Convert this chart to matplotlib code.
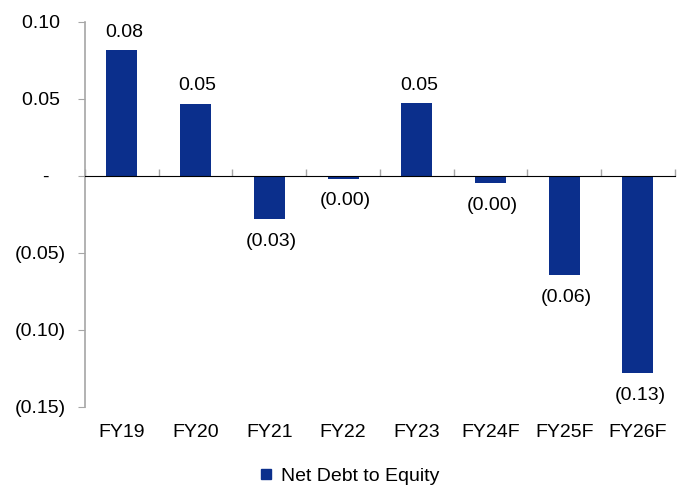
import matplotlib
matplotlib.use('Agg')
import matplotlib.pyplot as plt
from matplotlib.ticker import FuncFormatter
from matplotlib.lines import Line2D

plt.rcParams['font.family'] = ['Liberation Sans', 'DejaVu Sans']

# data
years = ['FY19', 'FY20', 'FY21', 'FY22', 'FY23', 'FY24F', 'FY25F', 'FY26F']
net_debt_to_equity = [0.0816, 0.0466, -0.0277, -0.0017, 0.0472, -0.0045, -0.0645, -0.1277]
y_ticks = [0.10, 0.05, 0.0, -0.05, -0.10, -0.15]

bar_color = '#0B2F8C'
axis_color = '#A6A6A6'
fs = 14


def fmt(v, pos=None):
    # accounting style: negatives in brackets, zero as a dash
    if abs(v) < 1e-9:
        return '-   '
    if v < 0:
        return '({:.2f})'.format(-v)
    return '{:.2f} '.format(v)


def label(v):
    if v < 0:
        return '({:.2f})'.format(-v)
    return '{:.2f}'.format(v)


fig = plt.figure(figsize=(6.83, 4.88), dpi=100)
ax = fig.add_axes([0.1245, 0.166, 0.8635, 0.789])

x = range(len(years))
bars = ax.bar(x, net_debt_to_equity, width=0.42, color=bar_color, zorder=3)

ax.set_xlim(-0.5, len(years) - 0.5)
ax.set_ylim(-0.15, 0.10)
ax.set_yticks(y_ticks)
ax.yaxis.set_major_formatter(FuncFormatter(fmt))
ax.tick_params(axis='y', length=5, color=axis_color, pad=9, labelsize=fs)

ax.set_xticks(list(x))
ax.set_xticklabels(years)
ax.tick_params(axis='x', length=0, pad=12, labelsize=fs)

for s in ['top', 'right', 'bottom']:
    ax.spines[s].set_visible(False)
ax.spines['left'].set_color(axis_color)
ax.spines['left'].set_linewidth(1.2)

# zero line with category boundary ticks
zero_pos = (0 - (-0.15)) / 0.25
sec = ax.secondary_xaxis(zero_pos)
sec.set_xticks([i - 0.5 for i in range(len(years) + 1)])
sec.set_xticklabels([])
sec.tick_params(axis='x', direction='out', length=5, color=axis_color, width=1)
sec.spines['bottom'].set_color(axis_color)
sec.spines['bottom'].set_linewidth(1.2)
sec.set_zorder(4)

for i, v in enumerate(net_debt_to_equity):
    if v >= 0:
        ax.annotate(label(v), (i, v), xytext=(1.5, 7),
                    textcoords='offset points', ha='center', va='bottom', fontsize=fs)
    else:
        ax.annotate(label(v), (i, v), xytext=(1.5, -10),
                    textcoords='offset points', ha='center', va='top', fontsize=fs)

handle = Line2D([], [], marker='s', linestyle='none', color=bar_color, markersize=7.5)
fig.legend([handle], ['Net Debt to Equity'], loc='center', bbox_to_anchor=(0.511, 0.025),
           frameon=False, fontsize=fs, handlelength=0.7, handletextpad=0.4)

fig.savefig('out.png', dpi=100)
